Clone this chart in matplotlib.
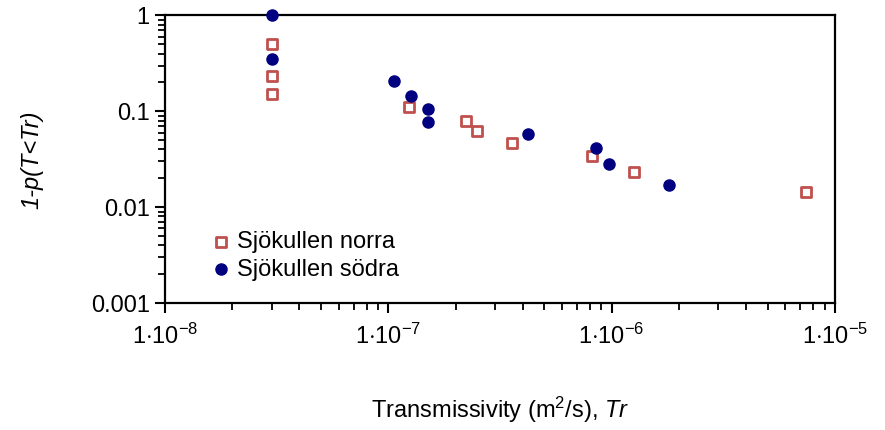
import numpy as np
import matplotlib
matplotlib.use('Agg')
import matplotlib.pyplot as plt
from matplotlib.ticker import LogLocator, FixedLocator, FuncFormatter, NullFormatter

# * ----- Data ----------------------------------------------------------------
norra_T = [3.0e-8, 3.0e-8, 3.0e-8, 1.24e-7, 2.23e-7, 2.50e-7, 3.58e-7, 8.17e-7, 1.26e-6, 7.40e-6]
norra_p = [0.50, 0.235, 0.150, 0.112, 0.079, 0.0627, 0.0463, 0.0339, 0.0232, 0.0144]

sodra_T = [3.0e-8, 3.0e-8, 1.06e-7, 1.27e-7, 1.50e-7, 1.50e-7, 4.22e-7, 8.51e-7, 9.70e-7, 1.81e-6]
sodra_p = [1.0, 0.351, 0.209, 0.146, 0.105, 0.0768, 0.0575, 0.0414, 0.0284, 0.0172]

x_ticks = [1e-8, 1e-7, 1e-6, 1e-5]
y_ticks = [0.001, 0.01, 0.1, 1]
y_tick_labels = ['0.001', '0.01', '0.1', '1']

# * ----- Style ---------------------------------------------------------------
plt.rcParams['font.family'] = ['Liberation Sans', 'DejaVu Sans']
plt.rcParams['mathtext.fontset'] = 'custom'
plt.rcParams['mathtext.rm'] = 'Liberation Sans'
plt.rcParams['mathtext.it'] = 'Liberation Sans:italic'

fig = plt.figure(figsize=(8.85, 4.30), dpi=100)
ax = fig.add_axes([0.1864, 0.2953, 0.7571, 0.6687])

ax.scatter(norra_T, norra_p, marker='s', s=50, facecolors='white', edgecolors='#c0504d',
           linewidths=2.0, label='Sjökullen norra', zorder=3, clip_on=False)
ax.scatter(sodra_T, sodra_p, marker='o', s=64, color='#000080', label='Sjökullen södra',
           zorder=4, clip_on=False)

ax.set_xscale('log')
ax.set_yscale('log')
ax.set_xlim(1e-8, 1e-5)
ax.set_ylim(0.001, 1)

ax.xaxis.set_major_locator(FixedLocator(x_ticks))
ax.xaxis.set_major_formatter(FuncFormatter(
    lambda v, pos: r'$1{\cdot}10^{%d}$' % int(round(np.log10(v)))))
ax.xaxis.set_minor_locator(LogLocator(base=10, subs=np.arange(2, 10)))
ax.xaxis.set_minor_formatter(NullFormatter())

ax.yaxis.set_major_locator(FixedLocator(y_ticks))
ax.set_yticklabels(y_tick_labels)
ax.yaxis.set_minor_locator(LogLocator(base=10, subs=np.arange(2, 10)))
ax.yaxis.set_minor_formatter(NullFormatter())

for s in ax.spines.values():
    s.set_linewidth(1.6)
ax.tick_params(which='major', direction='out', length=7, width=1.5, labelsize=17, pad=4)
ax.tick_params(which='minor', direction='out', length=5, width=1.3)
ax.tick_params(axis='x', pad=8)

ax.set_xlabel(r'Transmissivity (m$^2$/s), $\mathit{Tr}$', fontsize=17, labelpad=33)
ax.set_ylabel('1-p(T<Tr)', fontsize=17, style='italic', labelpad=34)

ax.legend(loc='lower left', bbox_to_anchor=(0.055, 0.045), frameon=False, fontsize=17,
          handlelength=0.8, handletextpad=0.3, labelspacing=0.25, borderaxespad=0)

fig.savefig('out.png', dpi=100)
